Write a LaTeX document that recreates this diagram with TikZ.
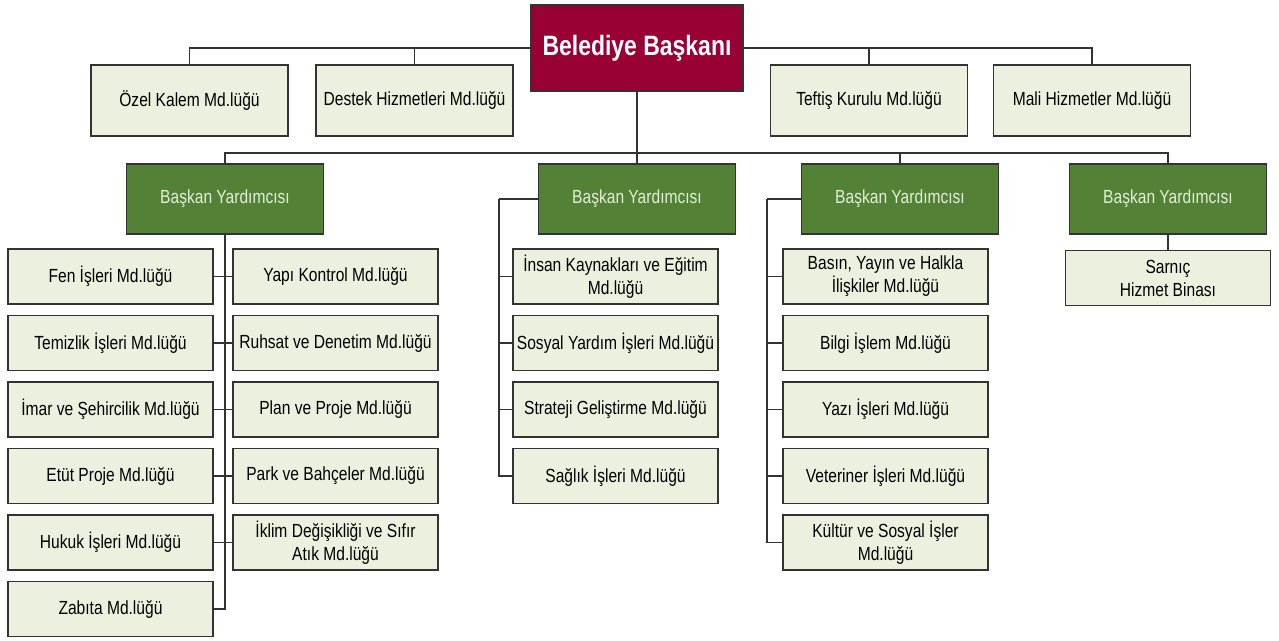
\documentclass[tikz,border=0pt]{standalone}
\usepackage{fontspec}
\setmainfont{Liberation Sans}[FakeStretch=0.82]
\usepackage{tikz}

\definecolor{bordo}{HTML}{990033}
\definecolor{yesil}{HTML}{538135}
\definecolor{acik}{HTML}{EBF1DE}
\definecolor{yazi}{HTML}{E2EFD9}
\definecolor{cizgi}{HTML}{333333}

\begin{document}
\begin{tikzpicture}[x=1pt,y=-1pt]
        \tikzstyle{kutu}=[rectangle, draw=cizgi, line width=1.6pt, fill=acik, inner sep=1pt, align=center, font=\fontsize{19}{23}\selectfont, minimum width=205pt, minimum height=55pt]
        \tikzstyle{ust}=[kutu, minimum width=197pt, minimum height=71pt]
        \tikzstyle{yrd}=[kutu, fill=yesil, text=yazi, minimum width=197pt, minimum height=70pt]
        \tikzstyle{baskan}=[rectangle, draw=cizgi, line width=1.6pt, fill=bordo, text=white, font=\fontsize{28}{32}\selectfont\bfseries, minimum width=212pt, minimum height=86pt]

            \useasboundingbox (0,0) rectangle (1279,640);

            \node[baskan](0) at (637,48){Belediye Başkanı};

            \node[ust](1) at (189.5,100.5){Özel Kalem Md.lüğü};
            \node[ust](2) at (414.5,100.5){Destek Hizmetleri Md.lüğü};
            \node[ust](3) at (869,100.5){Teftiş Kurulu Md.lüğü};
            \node[ust](4) at (1092,100.5){Mali Hizmetler Md.lüğü};

            \node[yrd](5) at (225,199){Başkan Yardımcısı};
            \node[yrd](6) at (637,199){Başkan Yardımcısı};
            \node[yrd](7) at (900,199){Başkan Yardımcısı};
            \node[yrd](8) at (1168,199){Başkan Yardımcısı};

            \node[kutu](9) at (110.5,276.5){Fen İşleri Md.lüğü};
            \node[kutu](10) at (110.5,343){Temizlik İşleri Md.lüğü};
            \node[kutu](11) at (110.5,409.5){İmar ve Şehircilik Md.lüğü};
            \node[kutu](12) at (110.5,476){Etüt Proje Md.lüğü};
            \node[kutu](13) at (110.5,542.5){Hukuk İşleri Md.lüğü};
            \node[kutu](14) at (110.5,609){Zabıta Md.lüğü};

            \node[kutu](15) at (335.5,276.5){Yapı Kontrol Md.lüğü};
            \node[kutu](16) at (335.5,343){Ruhsat ve Denetim Md.lüğü};
            \node[kutu](17) at (335.5,409.5){Plan ve Proje Md.lüğü};
            \node[kutu](18) at (335.5,476){Park ve Bahçeler Md.lüğü};
            \node[kutu](19) at (335.5,542.5){İklim Değişikliği ve Sıfır\\Atık Md.lüğü};

            \node[kutu](20) at (615.5,276.5){İnsan Kaynakları ve Eğitim\\Md.lüğü};
            \node[kutu](21) at (615.5,343){Sosyal Yardım İşleri Md.lüğü};
            \node[kutu](22) at (615.5,409.5){Strateji Geliştirme Md.lüğü};
            \node[kutu](23) at (615.5,476){Sağlık İşleri Md.lüğü};

            \node[kutu](24) at (885.5,276.5){Basın, Yayın ve Halkla\\İlişkiler Md.lüğü};
            \node[kutu](25) at (885.5,343){Bilgi İşlem Md.lüğü};
            \node[kutu](26) at (885.5,409.5){Yazı İşleri Md.lüğü};
            \node[kutu](27) at (885.5,476){Veteriner İşleri Md.lüğü};
            \node[kutu](28) at (885.5,542.5){Kültür ve Sosyal İşler\\Md.lüğü};

            \node[kutu](29) at (1168,278){Sarnıç\\Hizmet Binası};

            \coordinate (a) at (225,153);
            \coordinate (b) at (1168,153);
            \coordinate (c) at (499,199);
            \coordinate (d) at (767,199);

            \begin{scope}[draw=cizgi, line width=1.4pt]
            \foreach \from/\to in {1/0,2/0}
            \draw (\from.north) |- (\to.west);

            \foreach \from/\to in {3/0,4/0}
            \draw (\from.north) |- (\to.east);

            \draw (0) -- (6);
            \draw (5) -- (a) -- (b) -- (8);
            \draw (7) |- (a);

            \foreach \from/\to in {9/15,10/16,11/17,12/18,13/19}
            \draw (\from) -- (\to);
            \draw (14) -| (5);

            \draw (6) -- (c);
            \foreach \to in {20,21,22,23}
            \draw (c) |- (\to);

            \draw (7) -- (d);
            \foreach \to in {24,25,26,27,28}
            \draw (d) |- (\to);

            \draw (8) -- (29);
            \end{scope}

        \end{tikzpicture}
\end{document}
